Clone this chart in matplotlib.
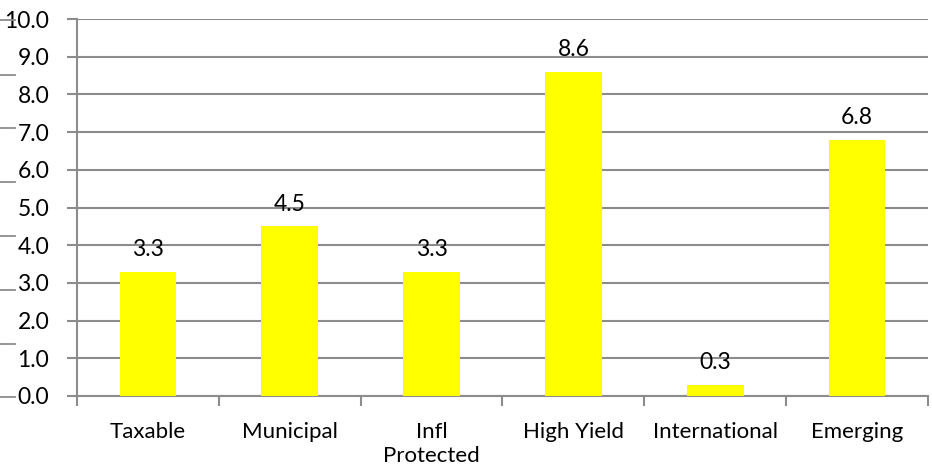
import numpy as np
import matplotlib.pyplot as plt
from matplotlib.lines import Line2D

categories = ["Taxable", "Municipal", "Infl\nProtected", "High Yield", "International", "Emerging"]
values = [3.3, 4.5, 3.3, 8.6, 0.3, 6.8]

plt.rcParams['font.family'] = ['Lato', 'DejaVu Sans']

fig = plt.figure(figsize=(9.32, 4.76), dpi=100)
ax = fig.add_axes([77 / 932, 80 / 476, (928 - 77) / 932, (396 - 19) / 476])

grid_col = "#8c8c8c"
x = np.arange(len(categories))
bars = ax.bar(x, values, width=0.4, color="#ffff00", zorder=3)

for xi, v in zip(x, values):
    ax.text(xi, v + 0.3, f"{v:.1f}", ha="center", va="bottom", fontsize=16.5, color="black")

ax.set_xlim(-0.5, len(categories) - 0.5)
ax.set_ylim(0, 10)
ax.set_yticks(np.arange(0, 10.1, 1.0))
ax.set_yticklabels([f"{t:.1f}" for t in np.arange(0, 10.1, 1.0)], fontsize=16.5)
ax.yaxis.grid(True, color=grid_col, linewidth=1.5, zorder=0)
ax.set_xticks(x)
ax.set_xticklabels(categories, fontsize=16, linespacing=1.25, va="top")
ax.tick_params(axis="x", length=0, pad=19)
ax.tick_params(axis="y", length=7, width=1.5, color=grid_col, pad=13)

# minor ticks on x mark the category boundaries
ax.set_xticks(np.arange(-0.5, len(categories)), minor=True)
ax.tick_params(axis="x", which="minor", length=7, width=1.5, color=grid_col)

for s in ["top", "right"]:
    ax.spines[s].set_visible(False)
for s in ["left", "bottom"]:
    ax.spines[s].set_color(grid_col)
    ax.spines[s].set_linewidth(1.5)

# short grey strokes along the left edge
for yy in [20, 75, 128, 182, 236, 290, 344, 397]:
    fig.add_artist(Line2D([0, 15 / 932], [1 - yy / 476] * 2, color=grid_col, linewidth=1.3))

fig.savefig("out.png", dpi=100)
